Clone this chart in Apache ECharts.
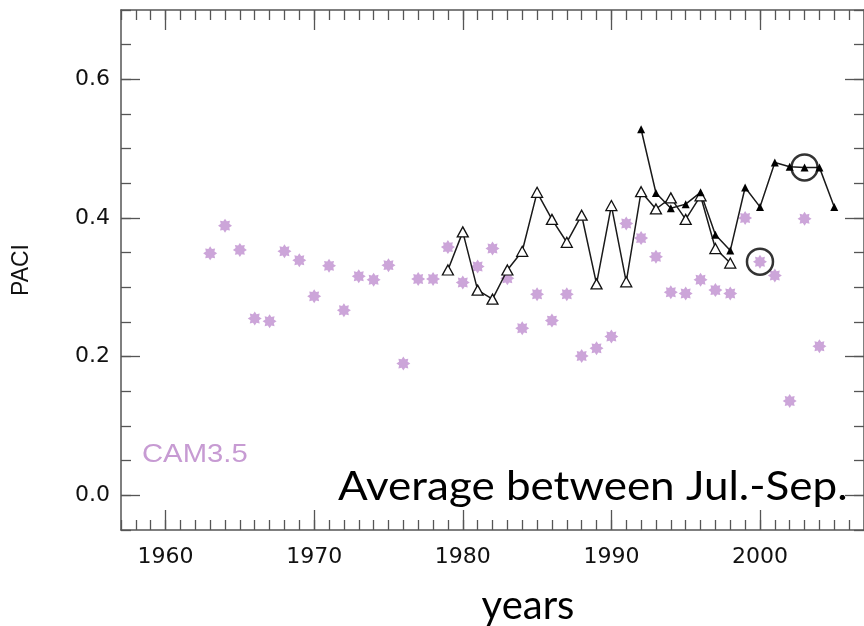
<!DOCTYPE html>
<html>
<head>
<meta charset="utf-8">
<script src="https://cdn.jsdelivr.net/npm/echarts@6/dist/echarts.min.js"></script>
<style>
html,body{margin:0;padding:0;background:#fff;}
#c{width:864px;height:626px;}
</style>
</head>
<body>
<div id="c"></div>
<script>
// ---- data ----
var camYears = [1963,1964,1965,1966,1967,1968,1969,1970,1971,1972,1973,1974,1975,1976,1977,1978,1979,1980,1981,1982,1983,1984,1985,1986,1987,1988,1989,1990,1991,1992,1993,1994,1995,1996,1997,1998,1999,2000,2001,2002,2003,2004];
var camValues = [0.349,0.389,0.354,0.255,0.251,0.352,0.339,0.287,0.331,0.267,0.316,0.311,0.332,0.190,0.312,0.312,0.358,0.307,0.330,0.356,0.313,0.241,0.290,0.252,0.290,0.201,0.212,0.229,0.392,0.371,0.344,0.293,0.291,0.311,0.296,0.291,0.400,0.337,0.317,0.136,0.399,0.215];
var openYears = [1979,1980,1981,1982,1983,1984,1985,1986,1987,1988,1989,1990,1991,1992,1993,1994,1995,1996,1997,1998];
var openValues = [0.325,0.380,0.296,0.283,0.325,0.352,0.437,0.398,0.365,0.404,0.305,0.418,0.308,0.438,0.413,0.429,0.398,0.432,0.356,0.335];
var filledYears = [1992,1993,1994,1995,1996,1997,1998,1999,2000,2001,2002,2003,2004,2005];
var filledValues = [0.528,0.436,0.414,0.420,0.437,0.376,0.353,0.444,0.416,0.480,0.474,0.473,0.473,0.416];
var circledFilledYear = 2003;
var circledCamYear = 2000;
var xTickValues = [1960,1970,1980,1990,2000];
var xTickLabels = ['1960','1970','1980','1990','2000'];
var yTickValues = [0,0.2,0.4,0.6];
var yTickLabels = ['0.0','0.2','0.4','0.6'];
var seriesLabel = 'CAM3.5';
var xTitle = 'years';
var yTitle = 'PACI';
var note = 'Average between Jul.-Sep.';

// ---- build ----
function pairs(xs, ys){ return xs.map(function(x,i){ return [x, ys[i]]; }); }
function starPath(n, rIn){
  var pts = [];
  for (var i = 0; i < 2*n; i++){
    var a = Math.PI * i / n - Math.PI/2;
    var r = (i % 2 === 0) ? 1 : rIn;
    pts.push((r*Math.cos(a)).toFixed(3) + ',' + (r*Math.sin(a)).toFixed(3));
  }
  return 'path://M' + pts.join('L') + 'Z';
}
var purple = '#bf8fcf';
var axisColor = '#555';
var labelFont = 'DejaVu Sans';
var circled = [
  [circledFilledYear, filledValues[filledYears.indexOf(circledFilledYear)]],
  [circledCamYear, camValues[camYears.indexOf(circledCamYear)]]
];

function xAxisMajor(pos, showLabel){
  return {
    type:'value', position:pos, min:1957, max:2007,
    axisLine:{show:true, onZero:false, lineStyle:{color:axisColor, width:1.5}},
    axisTick:{show:true, inside:true, length:20, customValues:xTickValues, lineStyle:{color:axisColor, width:1.3}},
    axisLabel:{show:showLabel, customValues:xTickValues, margin:16, fontSize:22, fontFamily:labelFont, color:'#111',
      formatter:function(v){ var i = xTickValues.indexOf(v); return i>=0 ? xTickLabels[i] : ''; }},
    splitLine:{show:false}
  };
}
function xAxisMinor(pos){
  return {
    type:'value', position:pos, min:1957, max:2007, interval:1,
    axisLine:{show:false, onZero:false},
    axisTick:{show:true, inside:true, length:10, lineStyle:{color:axisColor, width:1.3}},
    axisLabel:{show:false}, splitLine:{show:false}
  };
}
function yAxisMajor(pos, showLabel){
  return {
    type:'value', position:pos, min:-0.05, max:0.7,
    axisLine:{show:true, onZero:false, lineStyle:{color:axisColor, width:1.5}},
    axisTick:{show:true, inside:true, length:19, customValues:yTickValues, lineStyle:{color:axisColor, width:1.3}},
    axisLabel:{show:showLabel, customValues:yTickValues, margin:11, fontSize:22, fontFamily:labelFont, color:'#111',
      formatter:function(v){ for (var i=0;i<yTickValues.length;i++){ if (Math.abs(yTickValues[i]-v)<1e-6) return yTickLabels[i]; } return ''; }},
    splitLine:{show:false},
    name: showLabel ? yTitle : '', nameLocation:'middle', nameRotate:90, nameGap:88,
    nameTextStyle:{fontSize:23, fontFamily:'Liberation Sans', color:'#111'}
  };
}
function yAxisMinor(pos){
  return {
    type:'value', position:pos, min:-0.05, max:0.7, interval:0.05,
    axisLine:{show:false, onZero:false},
    axisTick:{show:true, inside:true, length:10, lineStyle:{color:axisColor, width:1.3}},
    axisLabel:{show:false}, splitLine:{show:false}
  };
}

var chart = echarts.init(document.getElementById('c'), null, {renderer:'canvas'});
chart.setOption({
  animation:false,
  backgroundColor:'#fff',
  grid:{left:121, top:10, right:-6, bottom:96, containLabel:false},
  xAxis:[xAxisMajor('bottom', true), xAxisMinor('bottom'), xAxisMajor('top', false), xAxisMinor('top')],
  yAxis:[yAxisMajor('left', true), yAxisMinor('left'), yAxisMajor('right', false), yAxisMinor('right')],
  series:[
    {type:'scatter', name:seriesLabel, xAxisIndex:0, yAxisIndex:0, data:pairs(camYears, camValues),
      symbol:starPath(8, 0.66), symbolSize:14, itemStyle:{color:purple}},
    {type:'line', name:'obs1', xAxisIndex:0, yAxisIndex:0, data:pairs(openYears, openValues),
      symbol:'triangle', symbolSize:[11,10], showAllSymbol:true,
      lineStyle:{color:'#1a1a1a', width:1.5},
      itemStyle:{color:'#fff', borderColor:'#111', borderWidth:1.3}},
    {type:'line', name:'obs2', xAxisIndex:0, yAxisIndex:0, data:pairs(filledYears, filledValues),
      symbol:'triangle', symbolSize:[8,8], showAllSymbol:true,
      lineStyle:{color:'#1a1a1a', width:1.5},
      itemStyle:{color:'#000', borderColor:'#000', borderWidth:0}},
    {type:'scatter', name:'circles', xAxisIndex:0, yAxisIndex:0, data:circled,
      symbol:'circle', symbolSize:26, z:5,
      itemStyle:{color:'rgba(0,0,0,0)', borderColor:'#000', borderWidth:2.5}}
  ],
  graphic:[
    {type:'text', x:142, y:455, scaleX:1.17, style:{text:seriesLabel, font:'25px "Liberation Sans"', fill:'#c79bd3', align:'left', verticalAlign:'middle', textAlign:'left', textVerticalAlign:'middle'}},
    {type:'text', x:338, y:487, scaleX:1.1, style:{text:note, font:'40px Lato', fill:'#000', align:'left', verticalAlign:'middle', textAlign:'left', textVerticalAlign:'middle'}},
    {type:'text', x:528, y:606, style:{text:xTitle, font:'40px Lato', fill:'#000', align:'center', verticalAlign:'middle', textAlign:'center', textVerticalAlign:'middle'}}
  ]
});
</script>
</body>
</html>
